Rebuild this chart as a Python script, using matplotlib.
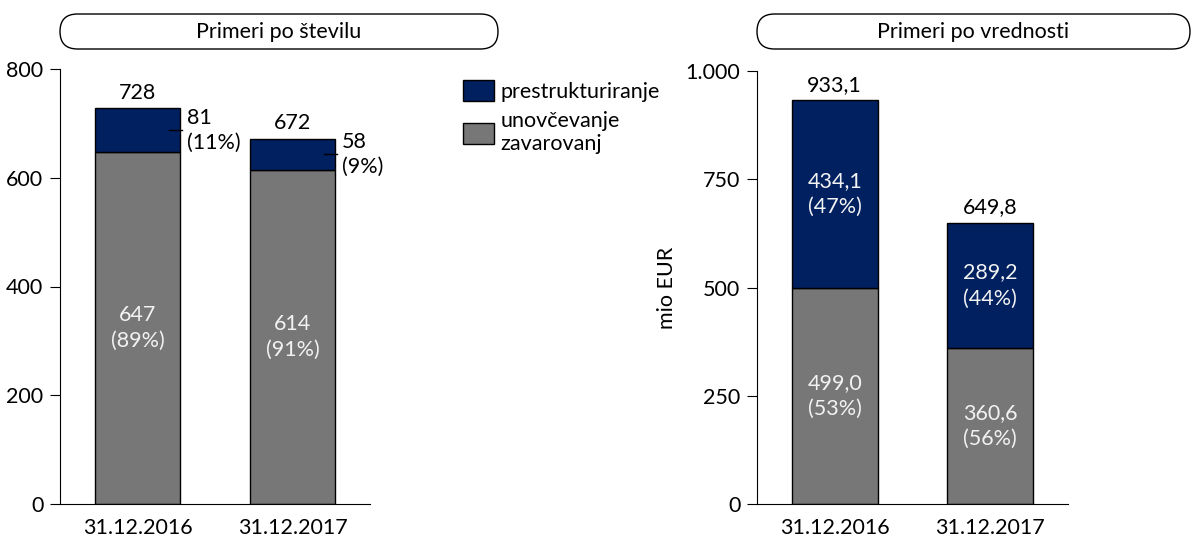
import matplotlib.pyplot as plt
from matplotlib.patches import FancyBboxPatch
from matplotlib.ticker import FuncFormatter

plt.rcParams['font.family'] = ['Lato', 'DejaVu Sans']
plt.rcParams['font.size'] = 15.5

dates = ['31.12.2016', '31.12.2017']
# Primeri po številu
st_unovc = [647, 614]
st_prestr = [81, 58]
st_total = [728, 672]
st_unovc_pct = ['89%', '91%']
st_prestr_pct = ['11%', '9%']
# Primeri po vrednosti (mio EUR)
vr_unovc = [499.0, 360.6]
vr_prestr = [434.1, 289.2]
vr_total = [933.1, 649.8]
vr_unovc_pct = ['53%', '56%']
vr_prestr_pct = ['47%', '44%']

navy = '#002060'
gray = '#777777'
txt_in = '#f2f2f2'
W, H = 1193, 545

fig = plt.figure(figsize=(W / 100, H / 100), dpi=100)


def px_axes(x0, x1, y_top, y_bot):
    return fig.add_axes([x0 / W, 1 - y_bot / H, (x1 - x0) / W, (y_bot - y_top) / H])


def sl(v, dec=0):
    s = f'{v:,.{dec}f}'
    return s.replace(',', 'X').replace('.', ',').replace('X', '.')


def style(ax, ymax, step):
    ax.set_xlim(-0.5, 1.5)
    ax.set_ylim(0, ymax)
    ax.set_yticks(range(0, ymax + 1, step))
    ax.yaxis.set_major_formatter(FuncFormatter(lambda v, p: sl(v)))
    ax.set_xticks(range(len(dates)))
    ax.set_xticklabels(dates)
    ax.tick_params(axis='x', length=0, pad=10)
    ax.tick_params(axis='y', length=7, pad=5)
    for s in ['top', 'right']:
        ax.spines[s].set_visible(False)


x = range(len(dates))

# ---- levi graf
ax1 = px_axes(60, 370, 69, 504)
b1 = ax1.bar(x, st_unovc, 0.55, color=gray, edgecolor='black', lw=1)
b2 = ax1.bar(x, st_prestr, 0.55, bottom=st_unovc, color=navy, edgecolor='black', lw=1)
style(ax1, 800, 200)
for i in x:
    ax1.text(i, st_unovc[i] / 2, f'{st_unovc[i]}\n({st_unovc_pct[i]})', color=txt_in,
             ha='center', va='center', linespacing=1.4)
    ax1.text(i, st_total[i] + 10, str(st_total[i]), ha='center', va='bottom')
    ym = st_unovc[i] + st_prestr[i] / 2
    ax1.plot([i + 0.2, i + 0.29], [ym, ym], color='black', lw=1, clip_on=False)
    ax1.text(i + 0.32, ym, f'{st_prestr[i]}\n({st_prestr_pct[i]})', ha='left', va='center',
             linespacing=1.3)

ax1.legend([b2, b1], ['prestrukturiranje', 'unovčevanje\nzavarovanj'],
           loc='upper left', bbox_to_anchor=(454 / W, 1 - 71 / H), bbox_transform=fig.transFigure,
           frameon=False, handlelength=1.45, handleheight=1.15, handletextpad=0.3,
           labelspacing=0.45, borderaxespad=0)

# ---- desni graf
ax2 = px_axes(757, 1068, 71, 504)
ax2.bar(x, vr_unovc, 0.55, color=gray, edgecolor='black', lw=1)
ax2.bar(x, vr_prestr, 0.55, bottom=vr_unovc, color=navy, edgecolor='black', lw=1)
style(ax2, 1000, 250)
ax2.set_ylabel('mio EUR', labelpad=6)
for i in x:
    ax2.text(i, vr_unovc[i] / 2, f'{sl(vr_unovc[i], 1)}\n({vr_unovc_pct[i]})', color=txt_in,
             ha='center', va='center', linespacing=1.4)
    ax2.text(i, vr_unovc[i] + vr_prestr[i] / 2, f'{sl(vr_prestr[i], 1)}\n({vr_prestr_pct[i]})',
             color=txt_in, ha='center', va='center', linespacing=1.4)
    ax2.text(i, vr_total[i] + 12, sl(vr_total[i], 1), ha='center', va='bottom')

# ---- naslovi v zaobljenih okvirjih
ov = fig.add_axes([0, 0, 1, 1])
ov.set_xlim(0, W)
ov.set_ylim(H, 0)
ov.axis('off')
for x0, x1, title in [(60, 498, 'Primeri po številu'), (757, 1190, 'Primeri po vrednosti')]:
    ov.add_patch(FancyBboxPatch((x0, 14), x1 - x0, 35,
                                boxstyle='round,pad=0,rounding_size=17.5',
                                fc='white', ec='black', lw=1))
    ov.text((x0 + x1) / 2, 31.5, title, ha='center', va='center')

fig.savefig('out.png', dpi=100)
